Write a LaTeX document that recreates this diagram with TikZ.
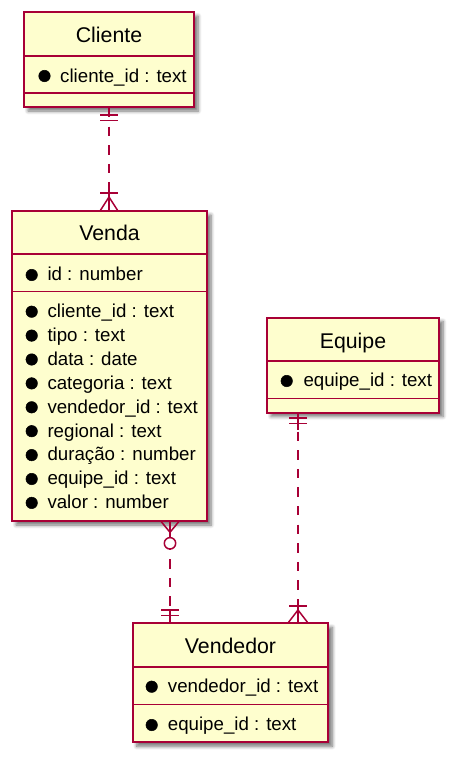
\documentclass[tikz,border=0pt]{standalone}
\usepackage{fontspec}
\setmainfont{Liberation Sans}
\usetikzlibrary{shadows.blur}
\definecolor{umlborder}{HTML}{A80036}
\definecolor{umlfill}{HTML}{FEFECE}
\definecolor{umltext}{HTML}{000000}
\tikzset{
  entitybox/.style={draw=umlborder, fill=umlfill, line width=2pt,
    blur shadow={shadow xshift=4pt, shadow yshift=-4pt, shadow blur steps=6, shadow blur radius=3.5pt, shadow opacity=55}},
  sepline/.style={draw=umlborder, line width=1.6pt},
  thinsep/.style={draw=umlborder, line width=1pt},
  bodytxt/.style={anchor=base west, inner sep=0pt, font=\fontsize{18.7}{22}\selectfont, text=umltext},
  titletxt/.style={anchor=base, inner sep=0pt, font=\fontsize{21.3}{25}\selectfont, text=umltext},
  bulletdot/.style={fill=black, draw=black, line width=0.5pt, circle, inner sep=0pt, minimum size=11.5pt},
  relline/.style={draw=umlborder, line width=1.5pt, dash pattern=on 9.3pt off 9.3pt},
  relmark/.style={draw=umlborder, line width=1.5pt},
}
\begin{document}
\begin{tikzpicture}[x=1pt,y=-1pt]
\useasboundingbox (0,0) rectangle (451,763);

% ---------- Cliente ----------
\path[entitybox] (24,12) rectangle (194,107);
\draw[sepline] (24,56) -- (194,56);
\draw[sepline] (24,93) -- (194,93);
\node[titletxt] (tCliente) at (109,42) {Cliente};
\node[bulletdot] (bC1) at (44.5,76) {};
\node[bodytxt] (rC1) at (60,82) {cliente\_id : text};

% ---------- Venda ----------
\path[entitybox] (12,211) rectangle (207,521);
\draw[sepline] (12,254) -- (207,254);
\draw[thinsep] (12,291) -- (207,291);
\node[titletxt] (tVenda) at (109.5,240) {Venda};
\foreach \i/\yy/\t in {v0/275/{id : number},
  v1/311.7/{cliente\_id : text},
  v2/335.6/{tipo : text},
  v3/359.5/{data : date},
  v4/383.4/{categoria : text},
  v5/407.3/{vendedor\_id : text},
  v6/431.2/{regional : text},
  v7/455.1/{duração : number},
  v8/479.0/{equipe\_id : text},
  v9/502.9/{valor : number}}{
  \node[bulletdot] (b\i) at (31.7,\yy) {};
  \node[bodytxt] (r\i) at (47.3,\yy+5.8) {\t};
}

% ---------- Equipe ----------
\path[entitybox] (267,317.5) rectangle (439,412.5);
\draw[sepline] (267,361) -- (439,361);
\draw[sepline] (267,398.5) -- (439,398.5);
\node[titletxt] (tEquipe) at (353,348.3) {Equipe};
\node[bulletdot] (bE1) at (286.7,381) {};
\node[bodytxt] (rE1) at (303.3,386.8) {equipe\_id : text};

% ---------- Vendedor ----------
\path[entitybox] (132.7,623.3) rectangle (328.3,742.3);
\draw[sepline] (132.7,666.7) -- (328.3,666.7);
\draw[thinsep] (132.7,704) -- (328.3,704);
\node[titletxt] (tVendedor) at (230.5,653.3) {Vendedor};
\node[bulletdot] (bD1) at (151.7,686.7) {};
\node[bodytxt] (rD1) at (167.7,692.5) {vendedor\_id : text};
\node[bulletdot] (bD2) at (151.7,725) {};
\node[bodytxt] (rD2) at (167.7,730.8) {equipe\_id : text};

% ---------- Connectors ----------
% Cliente -> Venda
\coordinate (c1a) at (109,108);
\coordinate (c1b) at (109,210);
\draw[relline] (c1a) -- (c1b);
\draw[relmark] (100,115) -- (118,115);
\draw[relmark] (100,120.5) -- (118,120.5);
\draw[relmark] (100,193) -- (118,193);
\draw[relmark] (100,211) -- (109,197) -- (118,211);
\draw[relmark] (109,193) -- (109,211);

% Venda -> Vendedor
\coordinate (c2a) at (170,522);
\coordinate (c2b) at (170,622);
\draw[relline] (c2a) -- (c2b);
\draw[relmark] (160.7,521) -- (170,532.3) -- (179.3,521);
\draw[relmark] (170,521) -- (170,537.6);
\draw[relmark, fill=white] (170,543.3) circle (5.7pt);
\draw[relmark] (161,610) -- (179,610);
\draw[relmark] (161,615.7) -- (179,615.7);
\draw[relmark] (170,610) -- (170,623);

% Equipe -> Vendedor
\coordinate (c3a) at (298,413);
\coordinate (c3b) at (298,622);
\draw[relline] (c3a) -- (c3b);
\draw[relmark] (298,412) -- (298,430);
\draw[relmark] (289,418) -- (307,418);
\draw[relmark] (289,423.5) -- (307,423.5);
\draw[relmark] (289,606) -- (307,606);
\draw[relmark] (298,600) -- (298,623);
\draw[relmark] (288,623) -- (298,610) -- (308,623);
\end{tikzpicture}
\end{document}
